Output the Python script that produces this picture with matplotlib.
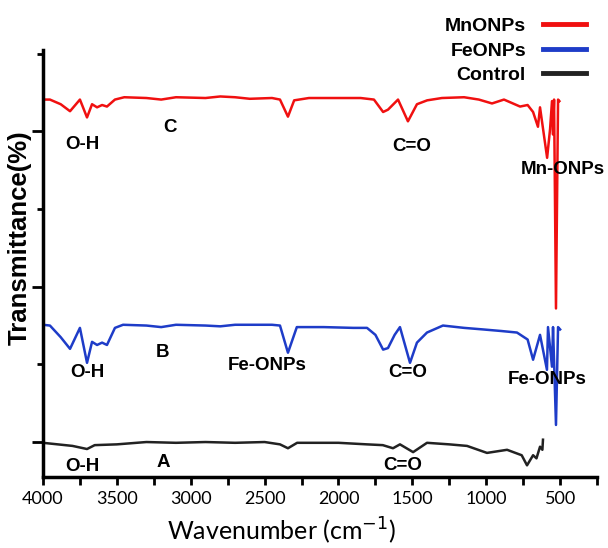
import matplotlib.pyplot as plt
from matplotlib.ticker import MultipleLocator

# wavenumber (cm-1) and stacked transmittance (offset units)
mn_wn = [4000, 3953, 3880, 3817, 3750, 3702, 3668, 3634, 3600, 3567, 3513, 3450, 3300, 3200, 3100,
         2900, 2800, 2700, 2600, 2450, 2396, 2342, 2300, 2200, 2000, 1850, 1760, 1698, 1665, 1597,
         1530, 1469, 1400, 1300, 1150, 1050, 961, 880, 771, 720, 683, 650, 636, 588, 568, 555,
         548, 541, 528, 514, 505]
mn_t = [4.41, 4.41, 4.35, 4.26, 4.41, 4.18, 4.35, 4.31, 4.34, 4.32, 4.41, 4.44, 4.43, 4.41, 4.44,
        4.43, 4.45, 4.44, 4.42, 4.43, 4.41, 4.19, 4.40, 4.43, 4.43, 4.43, 4.41, 4.25, 4.28, 4.41,
        4.13, 4.35, 4.40, 4.43, 4.44, 4.41, 4.36, 4.41, 4.32, 4.34, 4.25, 4.06, 4.31, 3.66, 4.03, 4.39,
        3.96, 4.41, 1.72, 4.41, 4.39]

fe_wn = [4000, 3953, 3880, 3817, 3750, 3702, 3668, 3634, 3600, 3567, 3513, 3458, 3300, 3200, 3100,
         2900, 2800, 2700, 2450, 2396, 2342, 2282, 2100, 1900, 1807, 1750, 1698, 1665, 1620, 1584,
         1516, 1469, 1401, 1293, 1150, 1022, 900, 792, 720, 683, 636, 589, 582, 555, 548, 528,
         514, 500]
fe_t = [1.51, 1.50, 1.35, 1.20, 1.47, 1.02, 1.29, 1.25, 1.28, 1.25, 1.47, 1.51, 1.50, 1.48, 1.51,
        1.50, 1.49, 1.51, 1.51, 1.50, 1.15, 1.48, 1.48, 1.47, 1.47, 1.38, 1.19, 1.21, 1.38, 1.48,
        1.02, 1.28, 1.41, 1.50, 1.47, 1.45, 1.43, 1.41, 1.32, 1.06, 1.38, 0.93, 1.48, 0.97, 1.48, 0.22,
        1.48, 1.45]

ctrl_wn = [4000, 3900, 3800, 3702, 3650, 3500, 3300, 3100, 2900, 2700, 2500, 2396, 2342, 2280,
           2000, 1807, 1700, 1631, 1584, 1495, 1401, 1250, 1130, 995, 859, 760, 724, 683, 660,
           636, 620, 616]
ctrl_t = [-0.01, -0.03, -0.05, -0.09, -0.04, -0.03, 0.00, -0.01, 0.00, -0.01, 0.00, -0.03, -0.08, -0.01,
          -0.01, -0.03, -0.04, -0.08, -0.03, -0.13, -0.01, -0.03, -0.05, -0.14, -0.10, -0.17, -0.30,
          -0.17, -0.21, -0.06, -0.10, 0.03]

# peak labels: (text, wavenumber, y)
labels = [("O-H", 3736, 3.83), ("C", 3140, 4.05), ("C=O", 1502, 3.81), ("Mn-ONPs", 480, 3.51),
          ("O-H", 3702, 0.89), ("B", 3194, 1.15), ("Fe-ONPs", 2484, 0.99), ("C=O", 1529, 0.89),
          ("Fe-ONPs", 588, 0.80),
          ("O-H", 3736, -0.32), ("A", 3188, -0.26), ("C=O", 1563, -0.30)]

fig = plt.figure(figsize=(6.08, 5.48), dpi=100)
ax = fig.add_axes([0.0707, 0.1296, 0.9113, 0.7794])

l1, = ax.plot(mn_wn, mn_t, color='#f01010', lw=1.8, label='MnONPs')
l2, = ax.plot(fe_wn, fe_t, color='#1e3cc8', lw=1.8, label='FeONPs')
l3, = ax.plot(ctrl_wn, ctrl_t, color='#222222', lw=1.8, label='Control')

for txt, x, y in labels:
    ax.text(x, y, txt, ha='center', va='center', fontsize=13.5, fontweight='bold',
            family='Liberation Sans', clip_on=False)

ax.set_xlim(4000, 250)
ax.set_ylim(-0.45, 5.05)
ax.xaxis.set_major_locator(MultipleLocator(500))
ax.xaxis.set_minor_locator(MultipleLocator(250))
ax.yaxis.set_major_locator(MultipleLocator(2))
ax.yaxis.set_minor_locator(MultipleLocator(1))
ax.set_yticklabels([])
ax.set_xticks([4000, 3500, 3000, 2500, 2000, 1500, 1000, 500])
ax.tick_params(axis='x', which='both', length=6, width=2, labelsize=13, pad=4)
ax.tick_params(axis='y', which='major', length=8, width=2)
ax.tick_params(axis='y', which='minor', length=4, width=2)
for lab in ax.get_xticklabels():
    lab.set_family('Lato')

for s in ['top', 'right']:
    ax.spines[s].set_visible(False)
for s in ['left', 'bottom']:
    ax.spines[s].set_linewidth(2.5)

ax.set_xlabel('Wavenumber (cm$^{-1}$)', fontsize=18, family='Lato')
ax.xaxis.set_label_coords(0.43, -0.09)
ax.set_ylabel('Transmittance(%)', fontsize=18.5, fontweight='bold', family='Liberation Sans')
ax.yaxis.set_label_coords(-0.02, 0.56)

fig.legend(handles=[l1, l2, l3], loc='upper right', bbox_to_anchor=(0.993, 1.0), frameon=False,
           markerfirst=False, handlelength=2.2, handletextpad=0.9, labelspacing=0.35,
           prop={'family': 'Liberation Sans', 'weight': 'bold', 'size': 14})
for h in fig.legends[0].get_lines():
    h.set_linewidth(3.5)

fig.savefig('out.png', dpi=100)
